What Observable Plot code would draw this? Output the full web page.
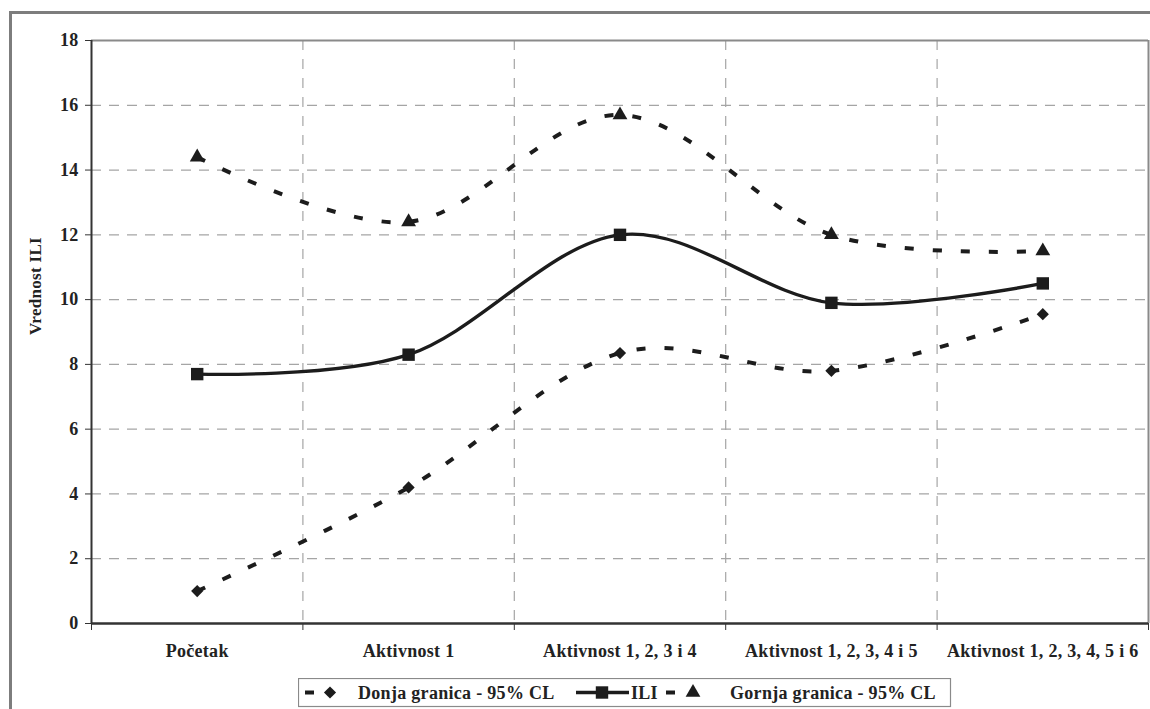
<!DOCTYPE html>
<html><head><meta charset="utf-8">
<script src="https://cdn.jsdelivr.net/npm/d3@7"></script>
<script src="https://cdn.jsdelivr.net/npm/@observablehq/plot@0.6"></script>
<style>
html,body{margin:0;padding:0;background:#fff;}
#page{position:relative;width:1150px;height:709px;overflow:hidden;background:#fff;}
#frame{position:absolute;left:9px;top:11px;width:1300px;height:900px;border:3px solid #7d7d7d;}
#chart{position:absolute;left:0;top:0;}
#legend{position:absolute;left:298px;top:678px;}
</style></head><body>
<div id="page"><div id="frame"></div><div id="chart"></div><div id="legend"></div></div>
<script>
const categories = ["Početak", "Aktivnost 1", "Aktivnost 1, 2, 3 i 4", "Aktivnost 1, 2, 3, 4 i 5", "Aktivnost 1, 2, 3, 4, 5 i 6"];
const donja = [1.0, 4.2, 8.35, 7.8, 9.55];
const ili = [7.7, 8.3, 12.0, 9.9, 10.5];
const gornja = [14.4, 12.4, 15.7, 12.0, 11.5];
const yTicks = [0, 2, 4, 6, 8, 10, 12, 14, 16, 18];
const seriesNames = ["Donja granica - 95% CL", "ILI", "Gornja granica - 95% CL"];
const yLabel = "Vrednost ILI";

const data = categories.map((c, i) => ({i, cat: c, donja: donja[i], ili: ili[i], gornja: gornja[i]}));
const idx = categories.map((_, i) => i);
const boundaries = categories.map((_, i) => i - 0.5).concat([categories.length - 0.5]);
const yMax = yTicks[yTicks.length - 1];
const ink = "#1c1c1c";
const FONT = "'Liberation Serif', 'Times New Roman', serif";
const DASH = "9,19";

const chart = Plot.plot({
  width: 1150, height: 670,
  marginTop: 40, marginBottom: 47, marginLeft: 91, marginRight: 2,
  style: {background: "transparent", fontFamily: FONT, fontSize: "18px", fontWeight: "bold", color: "#222", letterSpacing: "0.3px", overflow: "visible"},
  x: {type: "linear", domain: [boundaries[0], boundaries[boundaries.length - 1]]},
  y: {domain: [0, yMax]},
  marks: [
    Plot.gridY(yTicks.filter(v => v > 0 && v < yMax), {stroke: "#a5a5a5", strokeOpacity: 1, strokeWidth: 1.2, strokeDasharray: "10,8"}),
    Plot.gridX(boundaries.slice(1, -1), {stroke: "#a5a5a5", strokeOpacity: 1, strokeWidth: 1.2, strokeDasharray: "10,9"}),
    Plot.ruleY([yMax], {stroke: "#8a8a8a", strokeWidth: 2}),
    Plot.ruleX([boundaries[boundaries.length - 1]], {stroke: "#8a8a8a", strokeWidth: 2}),
    Plot.ruleX([boundaries[0]], {stroke: "#333", strokeWidth: 2}),
    Plot.ruleY([0], {stroke: "#333", strokeWidth: 2.5}),
    Plot.axisY(yTicks, {tickSize: 6, tickPadding: 7, label: null, stroke: "#333", fill: "#222"}),
    Plot.axisX(boundaries, {tickSize: 7, tickFormat: () => "", label: null, stroke: "#333"}),
    Plot.axisX(idx, {tickSize: 0, tickPadding: 21, tickFormat: i => categories[i], label: null, fill: "#222"}),
    Plot.line(data, {x: "i", y: "donja", curve: "cardinal", stroke: ink, strokeWidth: 4, strokeDasharray: DASH, strokeLinecap: "butt"}),
    Plot.line(data, {x: "i", y: "gornja", curve: "cardinal", stroke: ink, strokeWidth: 4, strokeDasharray: DASH, strokeLinecap: "butt"}),
    Plot.line(data, {x: "i", y: "ili", curve: "cardinal", stroke: ink, strokeWidth: 3.4}),
    Plot.dot(data, {x: "i", y: "donja", symbol: "diamond2", r: 5.5, fill: ink, stroke: "none"}),
    Plot.dot(data, {x: "i", y: "gornja", symbol: "triangle", r: 5.5, fill: ink, stroke: "none"}),
    Plot.dot(data, {x: "i", y: "ili", symbol: "square", r: 7, fill: ink, stroke: "none"}),
    Plot.text([yLabel], {text: d => d, frameAnchor: "left", textAnchor: "middle", rotate: -90, dx: -56, dy: -46, fontSize: 17, fontWeight: "bold", fill: "#222"})
  ]
});
document.getElementById("chart").appendChild(chart);

// Legend
const ns = "http://www.w3.org/2000/svg";
const lg = document.createElementNS(ns, "svg");
lg.setAttribute("width", 654); lg.setAttribute("height", 30);
function el(tag, attrs, parent) {
  const e = document.createElementNS(ns, tag);
  for (const k in attrs) e.setAttribute(k, attrs[k]);
  (parent || lg).appendChild(e);
  return e;
}
el("rect", {x: 0.5, y: 0.5, width: 652, height: 28, fill: "#fff", stroke: "#8a8a8a", "stroke-width": 1.2});
const cy = 14.5;
function txt(x, s) {
  const t = el("text", {x, y: cy + 6, "font-family": FONT, "font-size": 18, "font-weight": "bold", fill: "#222", "letter-spacing": "0.3px"});
  t.textContent = s;
}
function sym(type, x, size) {
  el("path", {d: d3.symbol(type, size)(), transform: `translate(${x},${cy})`, fill: ink});
}
el("rect", {x: 7, y: cy - 2, width: 9, height: 4, fill: ink});
sym(d3.symbolDiamond2, 32, Math.PI * 30);
txt(60, seriesNames[0]);
el("line", {x1: 278, x2: 331, y1: cy, y2: cy, stroke: ink, "stroke-width": 3.4});
sym(d3.symbolSquare, 304, Math.PI * 49);
txt(333, seriesNames[1]);
el("rect", {x: 368, y: cy - 2, width: 9, height: 4, fill: ink});
sym(d3.symbolTriangle, 395, Math.PI * 30);
txt(432, seriesNames[2]);
document.getElementById("legend").appendChild(lg);
</script>
</body></html>
